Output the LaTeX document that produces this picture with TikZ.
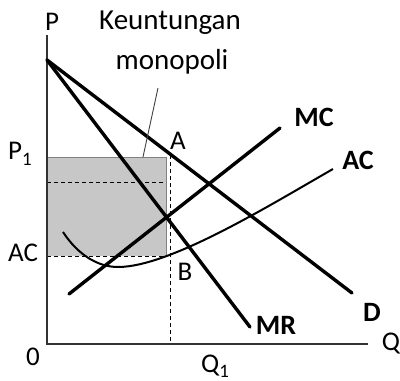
\documentclass[tikz,border=0pt]{standalone}
\usepackage{fontspec}
\setmainfont{Carlito}
\newcommand{\lowsub}[1]{\raisebox{-0.2em}{\fontsize{19}{20}\selectfont #1}}
\tikzset{
  lbl/.style={inner sep=0pt, font=\fontsize{27}{30}\selectfont},
  curvelbl/.style={inner sep=0pt, font=\bfseries\fontsize{28}{30}\selectfont},
  curve/.style={line width=3.4pt, line cap=round},
  guide/.style={dashed, line width=0.9pt, dash pattern=on 4pt off 3pt}
}
\begin{document}
\begin{tikzpicture}[x=1pt, y=-1pt]
  \useasboundingbox (0,0) rectangle (400,381);
  % Define parameters
  \def\ox{47}   % vertical axis
  \def\oy{344}  % horizontal axis
  \def\qone{170} % output Q1
  
  % Named points
  \coordinate (O) at (\ox,\oy);
  \coordinate (Ptop) at (\ox,35);
  \coordinate (Qend) at (368,\oy);
  \coordinate (Dstart) at (\ox,60);
  \coordinate (Dend) at (352,293);
  \coordinate (MRend) at (250,327);
  \coordinate (MCstart) at (69,294);
  \coordinate (MCend) at (280,128);
  \coordinate (ACstart) at (63,232);
  \coordinate (ACmin) at (118,267);
  \coordinate (ACend) at (333,169);
  
  % Profit area
  \fill[black!22] (\ox,157) rectangle (166,256);
  \draw[gray, line width=0.8pt] (\ox,256) -- (\ox,157) -- (166,157) -- (166,256);
  \draw[guide] (\ox,256) -- (166,256);
  \draw[guide] (\ox,182) -- (163,182);
  
  % Dashed line at Q1
  \draw[guide] (\qone,155) -- (\qone,\oy);
  
  % Axes
  \draw[line width=1.4pt, black!80] (Ptop) -- (O) -- (Qend);
  
  % Curves
  \draw[curve] (Dstart) -- (Dend);
  \draw[curve] (Dstart) -- (MRend);
  \draw[curve] (MCstart) -- (MCend);
  \draw[line width=2pt] (ACstart) .. controls (78,255) and (98,267) .. (ACmin)
    .. controls (170,267) and (270,205) .. (ACend);
  
  % Pointer for the profit label
  \draw[line width=0.9pt, black!75] (158,88) -- (143,157);
  
  % Labels
  \node[lbl] (p) at (52,22) {P};
  \node[lbl] (q) at (391,344) {Q};
  \node[lbl] (zero) at (33,357) {0};
  \node[lbl] (p1) at (20,154) {P\lowsub{1}};
  \node[lbl] (acy) at (23,253) {AC};
  \node[lbl] (q1) at (215,366) {Q\lowsub{1}};
  \node[lbl] (a) at (178,141) {A};
  \node[lbl] (b) at (185,272) {B};
  \node[lbl, font=\fontsize{29}{30}\selectfont] (profit1) at (170,23) {Keuntungan};
  \node[lbl, font=\fontsize{29}{30}\selectfont] (profit2) at (172,62) {monopoli};
  \node[curvelbl] (mc) at (314,117) {MC};
  \node[curvelbl] (ac) at (358,160) {AC};
  \node[curvelbl] (d) at (372,312) {D};
  \node[curvelbl] (mr) at (276,325) {MR};
\end{tikzpicture}
\end{document}
